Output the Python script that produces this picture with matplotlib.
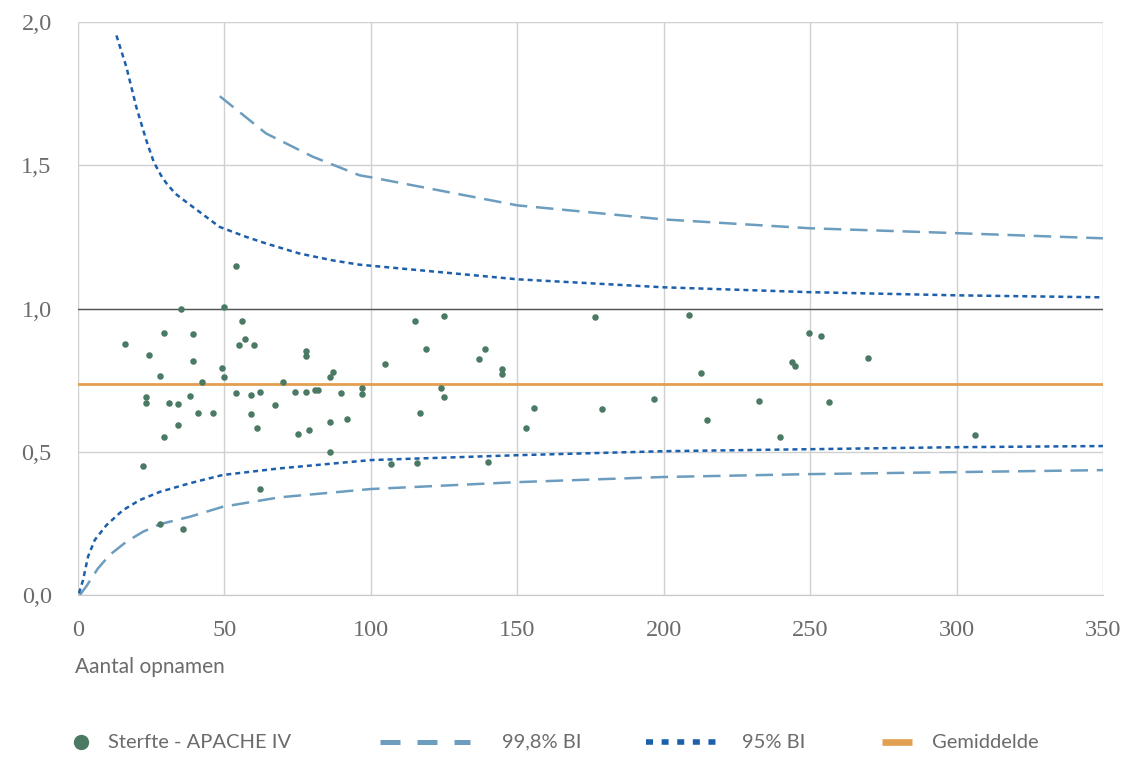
import matplotlib
matplotlib.use("Agg")
import matplotlib.pyplot as plt
from matplotlib.lines import Line2D
from matplotlib.ticker import FuncFormatter

# Scatter: hospital admissions vs. APACHE IV mortality ratio
n_admissions = [16.2, 24.1, 29.2, 39.1, 35.1, 39.1, 28.1, 23.1, 23.1, 31.2,
                34.1, 38.1, 42.2, 41.0, 46.0, 34.1, 29.2, 22.1, 28.1, 36.0,
                54.1, 50.0, 56.1, 57.1, 55.0, 60.0, 49.0, 50.0, 54.1, 59.1,
                62.1, 70.0, 67.1, 59.1, 61.0, 62.1, 78.0, 78.0, 74.0, 78.0,
                80.9, 82.0, 86.1, 87.1, 89.9, 97.0, 97.0, 86.1, 92.0, 75.0,
                79.0, 86.1, 104.9, 115.0, 124.9, 118.9, 136.9, 138.9, 144.8,
                144.8, 123.9, 124.9, 116.8, 107.0, 115.9, 139.9, 152.9, 155.8,
                176.7, 178.8, 196.7, 208.7, 212.7, 214.7, 249.6, 253.6, 243.7,
                244.7, 269.6, 232.7, 256.6, 239.6, 306.4]
mortality_ratio = [0.877, 0.836, 0.913, 0.911, 0.997, 0.816, 0.766, 0.691,
                   0.669, 0.670, 0.665, 0.695, 0.744, 0.636, 0.635, 0.593,
                   0.552, 0.450, 0.247, 0.231, 1.149, 1.007, 0.955, 0.892,
                   0.871, 0.872, 0.792, 0.760, 0.704, 0.697, 0.708, 0.742,
                   0.662, 0.632, 0.584, 0.370, 0.852, 0.834, 0.709, 0.710,
                   0.714, 0.717, 0.760, 0.780, 0.705, 0.722, 0.700, 0.604,
                   0.613, 0.562, 0.576, 0.498, 0.805, 0.957, 0.974, 0.860,
                   0.824, 0.858, 0.788, 0.771, 0.723, 0.692, 0.634, 0.459,
                   0.460, 0.465, 0.582, 0.652, 0.969, 0.650, 0.684, 0.978,
                   0.774, 0.611, 0.915, 0.905, 0.815, 0.798, 0.828, 0.677,
                   0.673, 0.551, 0.559]

mean_ratio = 0.735

# 95% limits
upper95_x = [13.1, 16.5, 19.9, 23.3, 25.9, 28.3, 30.1, 33.2, 36.9, 41.5,
             48.3, 57.4, 64.2, 75.6, 86.9, 96.1, 150, 200, 250, 300, 350]
upper95_y = [1.953, 1.843, 1.703, 1.587, 1.510, 1.465, 1.438, 1.401, 1.372,
             1.337, 1.285, 1.250, 1.227, 1.192, 1.168, 1.153, 1.102, 1.074,
             1.057, 1.046, 1.039]
lower95_x = [0.3, 1.7, 3.4, 5.7, 9.7, 15.3, 21.0, 27.9, 38.1, 49.4, 68.8,
             100, 150, 200, 250, 300, 350]
lower95_y = [0.006, 0.052, 0.134, 0.192, 0.244, 0.296, 0.331, 0.360, 0.390,
             0.419, 0.442, 0.471, 0.488, 0.502, 0.509, 0.516, 0.520]

# 99.8% limits
upper998_x = [48.4, 64.2, 80.1, 96.1, 100, 150, 200, 250, 300, 350]
upper998_y = [1.741, 1.611, 1.530, 1.465, 1.458, 1.360, 1.311, 1.280, 1.263,
              1.245]
lower998_x = [0.6, 2.8, 6.8, 10.8, 16.5, 22.2, 28.2, 38.1, 49.4, 68.8, 100,
              150, 200, 250, 300, 350]
lower998_y = [0.0, 0.030, 0.093, 0.140, 0.186, 0.221, 0.248, 0.273, 0.308,
              0.341, 0.370, 0.394, 0.412, 0.422, 0.429, 0.436]

GREEN = "#4a7a63"
LIGHT_BLUE = "#6c9dbf"
DARK_BLUE = "#1c5fab"
ORANGE = "#e29f52"
GREY_TXT = "#6b6b6b"

fig = plt.figure(figsize=(11.28, 7.58), dpi=100)
ax = fig.add_axes([0.0692, 0.215, 0.9086, 0.756])

ax.set_xlim(0, 350)
ax.set_ylim(0, 2.0)
ax.set_xticks(range(0, 351, 50))
ax.set_yticks([0, 0.5, 1.0, 1.5, 2.0])
ax.grid(True, color="#d0d0d0", linewidth=1.0)
ax.set_axisbelow(True)
for side in ["top", "right", "left"]:
    ax.spines[side].set_visible(False)
ax.spines["bottom"].set_color("#c8c8c8")
ax.tick_params(length=0, colors=GREY_TXT, labelsize=17.5)
ax.tick_params(axis="x", pad=18)
ax.tick_params(axis="y", pad=19)
ax.yaxis.set_major_formatter(FuncFormatter(lambda v, p: ("%.1f" % v).replace(".", ",")))
for lbl in ax.get_xticklabels() + ax.get_yticklabels():
    lbl.set_family("Liberation Serif")

ax.axhline(1.0, color="#555555", linewidth=1.0, zorder=2)
ax.axhline(mean_ratio, color=ORANGE, linewidth=2.0, zorder=3)

ax.plot(upper998_x, upper998_y, color=LIGHT_BLUE, lw=1.8, dashes=(7, 3.5), zorder=3)
ax.plot(lower998_x, lower998_y, color=LIGHT_BLUE, lw=1.8, dashes=(7, 3.5), zorder=3)
ax.plot(upper95_x, upper95_y, color=DARK_BLUE, lw=1.8, dashes=(2, 1.6), zorder=3)
ax.plot(lower95_x, lower95_y, color=DARK_BLUE, lw=1.8, dashes=(2, 1.6), zorder=3)

ax.scatter(n_admissions, mortality_ratio, s=22, color=GREEN, zorder=4, linewidths=0)

fig.text(0.0665, 0.1205, "Aantal opnamen", color=GREY_TXT, fontsize=15,
         family="Lato", ha="left", va="center")

# legend drawn by hand, to match the spacing of the original
ly = 0.021
fig.add_artist(Line2D([0.0718], [ly], marker="o", markersize=10, color=GREEN,
                      transform=fig.transFigure, linestyle="none"))
fig.add_artist(Line2D([0.3369, 0.4167], [ly, ly], color=LIGHT_BLUE, lw=3.6,
                      dashes=(4.0, 3.4), transform=fig.transFigure))
fig.add_artist(Line2D([0.5727, 0.6348], [ly, ly], color=DARK_BLUE, lw=4.0,
                      dashes=(1.26, 1.55), transform=fig.transFigure))
fig.add_artist(Line2D([0.7816, 0.8082], [ly, ly], color=ORANGE, lw=4.8,
                      transform=fig.transFigure, solid_capstyle="butt"))
for x, txt in [(0.0957, "Sterfte - APACHE IV"), (0.445, "99,8% BI"),
               (0.658, "95% BI"), (0.826, "Gemiddelde")]:
    fig.text(x, ly, txt, color=GREY_TXT, fontsize=14.5, family="Lato",
             ha="left", va="center")

fig.savefig("out.png", dpi=100, facecolor="white")
